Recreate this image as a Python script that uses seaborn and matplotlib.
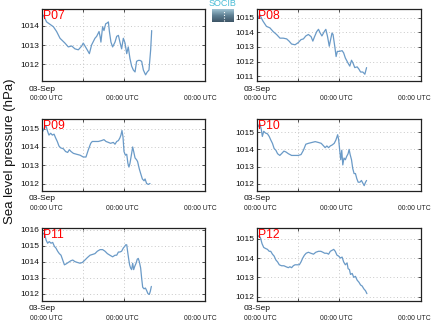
import numpy as np
import pandas as pd
import matplotlib
matplotlib.use("Agg")
import matplotlib.pyplot as plt
import seaborn as sns

sns.set_style("white")
plt.rcParams['font.family'] = ['Liberation Sans', 'DejaVu Sans']

# hours since 03-Sep 00:00 UTC, sea level pressure (hPa)
p07_h = [0.8, 2.7, 6.7, 8.6, 10.6, 13.5, 15.5, 17.5, 19.4, 21.4, 23.4, 24.3, 26.3, 27.9, 29.2, 31.2, 32.2,
         33.6, 34.2, 34.7, 35.7, 36.5, 37.5, 38.5, 39.1, 39.7, 40.6, 41.6, 43.0, 44.0, 45.0, 45.9, 46.9,
         47.9, 48.9, 49.9, 50.8, 51.8, 52.8, 53.8, 54.8, 55.7, 56.7, 57.7, 58.7, 59.7, 61.0, 62.0, 63.0,
         64.0, 64.6]
p07_v = [1014.55, 1014.2, 1013.95, 1013.7, 1013.35, 1013.1, 1012.9, 1012.95, 1012.8, 1012.75, 1012.95,
         1013.1, 1012.8, 1012.55, 1013.0, 1013.35, 1013.45, 1013.7, 1013.45, 1013.15, 1013.95, 1013.75,
         1014.1, 1014.15, 1014.2, 1013.7, 1013.15, 1012.9, 1013.15, 1013.45, 1013.5, 1013.15, 1012.8,
         1013.35, 1013.1, 1012.55, 1012.9, 1012.3, 1011.9, 1011.7, 1011.6, 1012.15, 1012.2, 1012.2,
         1012.15, 1011.7, 1011.45, 1011.6, 1011.7, 1012.75, 1013.75]

p08_h = [0.8, 1.8, 2.8, 3.7, 5.7, 7.7, 9.6, 11.6, 13.6, 15.5, 17.5, 18.9, 20.4, 22.4, 24.3, 25.9, 27.3,
         28.7, 30.2, 31.8, 32.8, 33.8, 35.1, 36.1, 37.1, 38.1, 39.5, 40.4, 41.4, 42.4, 43.0, 44.0, 44.6,
         45.6, 46.4, 47.1, 48.3, 49.9, 50.8, 51.8, 53.4, 54.4, 55.4, 56.3, 57.3, 58.7, 59.7, 60.7, 62.0,
         63.2, 64.2]
p08_v = [1014.95, 1015.2, 1014.95, 1014.75, 1014.4, 1014.3, 1014.05, 1013.85, 1013.6, 1013.6, 1013.55,
         1013.4, 1013.2, 1013.15, 1013.3, 1013.5, 1013.55, 1013.75, 1013.85, 1013.7, 1013.4, 1013.7,
         1014.05, 1014.2, 1013.95, 1013.75, 1014.05, 1014.2, 1013.7, 1013.05, 1013.4, 1013.95, 1013.85,
         1013.05, 1012.35, 1012.7, 1012.7, 1012.75, 1012.6, 1012.25, 1011.9, 1011.7, 1012.1, 1011.9,
         1011.6, 1011.65, 1011.5, 1011.3, 1011.3, 1011.15, 1011.6]

p09_h = [0.4, 1.4, 2.4, 3.3, 4.1, 5.1, 6.1, 7.1, 8.0, 9.0, 10.0, 11.0, 12.6, 13.9, 15.1, 16.1, 17.1, 18.5,
         20.4, 22.4, 24.3, 25.9, 27.3, 28.7, 29.6, 31.2, 33.2, 35.1, 36.5, 37.7, 39.1, 40.4, 42.0, 43.0,
         44.0, 45.0, 45.9, 46.5, 47.1, 47.7, 48.3, 49.1, 49.9, 50.6, 51.2, 51.8, 52.8, 53.4, 54.0, 54.8,
         55.7, 56.3, 57.3, 58.1, 59.1, 60.1, 60.7, 61.6, 62.6, 63.6]
p09_v = [1014.85, 1015.05, 1015.15, 1014.85, 1014.65, 1014.75, 1014.65, 1014.7, 1014.5, 1014.3, 1014.05,
         1013.95, 1013.9, 1013.75, 1013.7, 1013.85, 1013.75, 1013.65, 1013.6, 1013.55, 1013.45, 1013.45,
         1013.85, 1014.2, 1014.3, 1014.3, 1014.3, 1014.35, 1014.4, 1014.3, 1014.25, 1014.2, 1014.25,
         1014.15, 1014.3, 1014.35, 1014.5, 1014.65, 1014.9, 1014.55, 1013.75, 1013.55, 1013.6, 1013.1,
         1012.9, 1013.1, 1013.65, 1014.0, 1013.75, 1013.4, 1013.3, 1013.2, 1012.8, 1012.55, 1012.25,
         1012.15, 1012.25, 1012.0, 1011.95, 1012.0]

p10_h = [0.8, 1.8, 2.7, 3.3, 4.1, 5.1, 6.3, 7.3, 8.2, 9.2, 10.2, 11.2, 12.2, 13.5, 14.5, 15.9, 17.1, 18.5,
         20.4, 22.4, 24.3, 25.9, 27.3, 28.7, 30.2, 32.2, 34.2, 36.1, 37.7, 39.1, 40.0, 41.0, 42.0, 43.0,
         44.0, 45.3, 46.3, 47.3, 47.9, 48.5, 49.1, 49.7, 50.3, 51.0, 51.8, 52.6, 53.4, 54.0, 54.6, 55.4,
         56.1, 56.9, 57.7, 58.5, 59.3, 60.3, 61.2, 62.0, 62.8, 63.6, 64.2]
p10_v = [1015.3, 1015.5, 1015.15, 1014.75, 1015.05, 1014.95, 1014.9, 1014.75, 1014.55, 1014.35, 1014.05,
         1013.95, 1013.75, 1013.65, 1013.75, 1013.9, 1013.85, 1013.75, 1013.65, 1013.65, 1013.65, 1013.7,
         1013.95, 1014.3, 1014.35, 1014.4, 1014.45, 1014.4, 1014.35, 1014.2, 1014.1, 1014.2, 1014.1,
         1014.2, 1014.25, 1014.35, 1014.55, 1014.85, 1014.55, 1013.95, 1013.4, 1013.95, 1013.1, 1013.5,
         1013.4, 1013.6, 1013.75, 1014.0, 1013.7, 1013.4, 1012.9, 1012.6, 1012.6, 1012.3, 1012.1, 1012.1,
         1012.2, 1012.05, 1011.9, 1012.1, 1012.2]

p11_h = [0.4, 1.4, 2.4, 3.3, 4.3, 5.3, 6.3, 7.3, 8.2, 9.2, 10.2, 11.2, 12.2, 13.2, 14.1, 15.5, 16.9, 18.1,
         19.4, 20.8, 22.4, 23.8, 25.3, 26.7, 28.3, 29.8, 31.2, 32.6, 34.2, 35.7, 37.1, 38.5, 40.0, 41.6,
         43.0, 44.0, 45.0, 45.9, 46.9, 47.9, 48.7, 49.3, 49.9, 50.4, 51.0, 51.6, 52.2, 52.8, 53.4, 54.0,
         54.6, 55.4, 56.1, 56.7, 57.3, 58.1, 58.7, 59.3, 60.1, 60.9, 61.6, 62.4, 63.2, 63.8, 64.4]
p11_v = [1015.7, 1015.8, 1015.35, 1015.15, 1015.25, 1015.15, 1015.2, 1014.95, 1014.85, 1014.65, 1014.5,
         1014.4, 1014.1, 1013.8, 1013.85, 1013.95, 1014.05, 1014.1, 1014.0, 1013.95, 1013.9, 1013.95,
         1014.1, 1014.25, 1014.4, 1014.45, 1014.5, 1014.65, 1014.75, 1014.75, 1014.65, 1014.5, 1014.4,
         1014.3, 1014.4, 1014.4, 1014.6, 1014.6, 1014.65, 1014.85, 1014.95, 1015.05, 1015.05, 1014.65,
         1014.2, 1013.8, 1013.6, 1013.5, 1013.9, 1013.5, 1013.7, 1013.9, 1014.15, 1014.2, 1014.0, 1013.6,
         1012.95, 1012.4, 1012.3, 1012.35, 1012.2, 1012.0, 1011.95, 1012.15, 1012.45]

p12_h = [0.4, 1.2, 2.2, 3.1, 4.1, 5.1, 6.3, 7.3, 8.2, 9.2, 10.2, 11.2, 12.2, 13.2, 14.5, 15.9, 17.1, 18.5,
         19.4, 20.4, 21.4, 22.4, 23.8, 24.9, 25.9, 26.9, 27.9, 28.9, 30.2, 31.6, 33.2, 34.5, 36.1, 37.5,
         38.7, 39.7, 41.0, 42.0, 43.0, 44.0, 45.0, 45.9, 46.9, 47.9, 48.9, 49.9, 50.8, 51.8, 52.8, 53.4,
         54.2, 54.8, 55.8, 56.7, 57.7, 58.7, 59.7, 60.7, 61.6, 62.6, 63.6, 64.4]
p12_v = [1015.1, 1015.15, 1015.05, 1014.75, 1014.55, 1014.5, 1014.45, 1014.35, 1014.35, 1014.2, 1014.1,
         1013.9, 1013.8, 1013.65, 1013.6, 1013.6, 1013.55, 1013.5, 1013.55, 1013.5, 1013.6, 1013.65,
         1013.65, 1013.65, 1013.8, 1014.0, 1014.15, 1014.25, 1014.3, 1014.25, 1014.2, 1014.3, 1014.35,
         1014.35, 1014.3, 1014.25, 1014.25, 1014.2, 1014.35, 1014.4, 1014.45, 1014.35, 1014.15, 1014.1,
         1014.0, 1014.05, 1013.8, 1013.65, 1013.75, 1013.45, 1013.4, 1013.15, 1013.2, 1013.0, 1013.05,
         1012.85, 1012.75, 1012.6, 1012.55, 1012.4, 1012.3, 1012.15]

stations = ["P07", "P08", "P09", "P10", "P11", "P12"]
hours = [p07_h, p08_h, p09_h, p10_h, p11_h, p12_h]
values = [p07_v, p08_v, p09_v, p10_v, p11_v, p12_v]
ylims = [(1011.13, 1014.87), (1010.69, 1015.58), (1011.59, 1015.53),
         (1011.59, 1015.76), (1011.54, 1016.1), (1011.77, 1015.56)]
yticks = [[1012, 1013, 1014], [1011, 1012, 1013, 1014, 1015], [1012, 1013, 1014, 1015],
          [1012, 1013, 1014, 1015], [1012, 1013, 1014, 1015, 1016], [1012, 1013, 1014, 1015]]
date_label = "03-Sep"
time_label = "00:00 UTC"

W, H = 436, 327
fig = plt.figure(figsize=(W / 100, H / 100), dpi=100)

col_left = [42, 256.7]
col_width = [163, 164.3]
row_top = [9, 119, 228]
row_h = [72, 72, 73]

line_color = "#6a9ac7"
for i, st in enumerate(stations):
    r, c = divmod(i, 2)
    ax = fig.add_axes([col_left[c] / W, 1 - (row_top[r] + row_h[r]) / H,
                       col_width[c] / W, row_h[r] / H])
    df = pd.DataFrame({"hour": hours[i], "slp": values[i]})
    sns.lineplot(data=df, x="hour", y="slp", ax=ax, color=line_color, lw=0.9)
    ax.set_xlim(0, 96)
    ax.set_ylim(*ylims[i])
    ax.set_yticks(yticks[i])
    ax.set_yticklabels([str(t) for t in yticks[i]], fontsize=6)
    ax.set_xticks([24, 48])
    ax.set_xticklabels([])
    ax.set_xlabel("")
    ax.set_ylabel("")
    ax.grid(True, color="#c8c8c8", linestyle=(0, (1, 2.5)), linewidth=0.7)
    ax.tick_params(axis="both", direction="in", length=2.5, width=0.6, color="#333333",
                   pad=2, top=True, right=True, left=True, bottom=True, labelcolor="#111111")
    for sp in ax.spines.values():
        sp.set_color("#222222")
        sp.set_linewidth(0.9)
    ax.text(0.006, 0.985, st, transform=ax.transAxes, ha="left", va="top",
            color="red", fontsize=8.8)
    ax.annotate(date_label, xy=(0, 0), xycoords="axes fraction", xytext=(-13, -8),
                textcoords="offset pixels", ha="left", va="center", fontsize=6, color="#111111")
    for dx in (4, 80, 158):
        ax.annotate(time_label, xy=(0, 0), xycoords="axes fraction", xytext=(dx, -17.5),
                    textcoords="offset pixels", ha="center", va="center", fontsize=4.9,
                    color="#222222")

fig.text(10 / W, 1 - 151.5 / H, "Sea level pressure (hPa)", rotation=90,
         ha="center", va="center", fontsize=9.5, color="#111111")

# logo
lax = fig.add_axes([212 / W, 1 - 22 / H, 21 / W, 13 / H])
grad = np.linspace(0, 1, 50).reshape(-1, 1)
cmap = matplotlib.colors.LinearSegmentedColormap.from_list("lg", ["#9fc3d3", "#5e7f92", "#3d5566"])
lax.imshow(grad, aspect="auto", cmap=cmap, extent=[0, 1, 0, 1], origin="upper")
lax.plot([0.55, 0.55], [0.1, 0.9], color="white", linestyle=(0, (1, 1.5)), lw=0.8)
lax.set_axis_off()
fig.text(222.5 / W, 1 - 4 / H, "SOCIB", ha="center", va="center", fontsize=6.5,
         color="#49bcd6")

fig.savefig("out.png", dpi=100)
